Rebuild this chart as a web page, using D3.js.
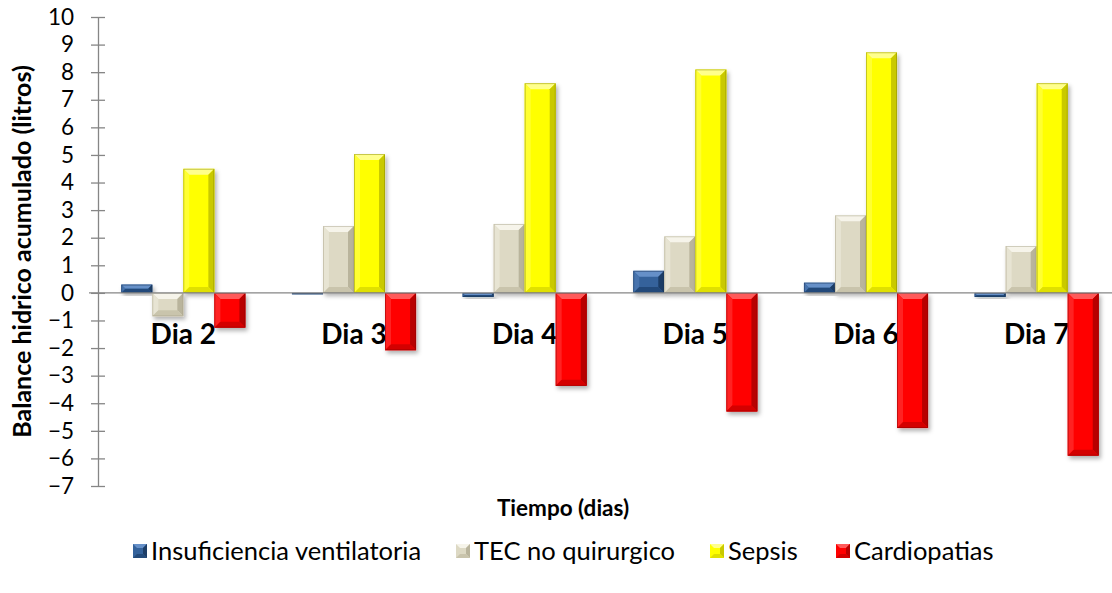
<!DOCTYPE html>
<html>
<head>
<meta charset="utf-8">
<script src="https://cdn.jsdelivr.net/npm/d3@7/dist/d3.min.js"></script>
<style>
  html, body { margin: 0; padding: 0; background: #ffffff; }
  svg { display: block; font-family: Lato, "Open Sans", sans-serif; }
</style>
</head>
<body>
<svg id="chart" width="1112" height="593"></svg>
<script>
// Accumulated fluid balance (litres) per day and diagnosis group
const days = ["Dia 2", "Dia 3", "Dia 4", "Dia 5", "Dia 6", "Dia 7"];
const seriesNames = ["Insuficiencia ventilatoria", "TEC no quirurgico", "Sepsis", "Cardiopatias"];
const insuficiencia = [0.3, -0.05, -0.15, 0.8, 0.37, -0.15];
const tec = [-0.85, 2.42, 2.5, 2.05, 2.81, 1.7];
const sepsis = [4.5, 5.03, 7.6, 8.1, 8.72, 7.6];
const cardiopatias = [-1.26, -2.08, -3.37, -4.3, -4.9, -5.9];
const yTicks = [10, 9, 8, 7, 6, 5, 4, 3, 2, 1, 0, -1, -2, -3, -4, -5, -6, -7];

const seriesValues = [insuficiencia, tec, sepsis, cardiopatias];
const palette = [
  { base: "#34629b", top: "#6690c8", left: "#4673ad", right: "#1d3d66", bottom: "#234a7a", edge: "#1a365c" },
  { base: "#ddd9c4", top: "#f6f4ea", left: "#e7e4d3", right: "#b9b49c", bottom: "#c9c4ac", edge: "#a8a38a" },
  { base: "#ffff00", top: "#ffff8c", left: "#ffff33", right: "#c9c900", bottom: "#e0e000", edge: "#8a8a00" },
  { base: "#ff0000", top: "#ff5a5a", left: "#ff2020", right: "#b80000", bottom: "#d40000", edge: "#8c0000" }
];

const svg = d3.select("#chart");

const x0 = d3.scaleBand().domain(days).range([98, 1122]).paddingInner(0).paddingOuter(0);
const bandW = x0.bandwidth();
const barW = bandW / 5.5;
const x1 = d3.scaleBand().domain(d3.range(4)).range([0.75 * barW, 4.75 * barW]);
const y = d3.scaleLinear().domain([-7, 10]).range([486, 17]);

// drop shadow for the bars
const defs = svg.append("defs");
const f = defs.append("filter").attr("id", "shadow").attr("x", "-30%").attr("y", "-30%").attr("width", "160%").attr("height", "160%");
f.append("feDropShadow").attr("dx", 2).attr("dy", 3).attr("stdDeviation", 2.2)
  .attr("flood-color", "#000").attr("flood-opacity", 0.3);

// y axis with crossing ticks
const yAxis = d3.axisLeft(y).tickValues(yTicks).tickSize(0).tickPadding(24).tickFormat(d3.format("d"));
const gy = svg.append("g").attr("transform", "translate(98,0)").call(yAxis);
gy.select(".domain").attr("stroke", "#868686").attr("stroke-width", 1.3);
gy.selectAll(".tick text").attr("font-size", 22.5).attr("fill", "#000").attr("font-family", "Lato, sans-serif");
gy.selectAll(".tick").append("line").attr("x1", -7).attr("x2", 7).attr("stroke", "#868686").attr("stroke-width", 1.3);

// category labels sit just below the zero line
svg.append("g").selectAll("text").data(days).join("text")
  .attr("x", d => x0(d) + bandW / 2)
  .attr("y", y(0) + 51)
  .attr("text-anchor", "middle")
  .attr("font-size", 28).attr("font-weight", 700).attr("fill", "#000")
  .text(d => d);

// beveled bars
const bars = [];
days.forEach((d, i) => {
  seriesValues.forEach((vals, s) => {
    bars.push({ day: d, s, v: vals[i] });
  });
});

const barG = svg.append("g").selectAll("g").data(bars).join("g")
  .attr("filter", "url(#shadow)");

barG.each(function (d) {
  const g = d3.select(this);
  const c = palette[d.s];
  const xL = x0(d.day) + x1(d.s);
  const xR = xL + x1.bandwidth();
  const yT = Math.min(y(d.v), y(0));
  const yB = Math.max(y(d.v), y(0));
  const w = xR - xL, h = Math.max(yB - yT, 1);
  const b = Math.min(6, w / 2, h / 2);
  g.append("rect").attr("x", xL).attr("y", yT).attr("width", w).attr("height", h).attr("fill", c.base);
  const poly = (pts, fill) => g.append("polygon").attr("points", pts.map(p => p.join(",")).join(" ")).attr("fill", fill);
  poly([[xL, yT], [xR, yT], [xR - b, yT + b], [xL + b, yT + b]], c.top);
  poly([[xL, yT], [xL + b, yT + b], [xL + b, yT + h - b], [xL, yT + h]], c.left);
  poly([[xR, yT], [xR, yT + h], [xR - b, yT + h - b], [xR - b, yT + b]], c.right);
  poly([[xL, yT + h], [xL + b, yT + h - b], [xR - b, yT + h - b], [xR, yT + h]], c.bottom);
  g.append("rect").attr("x", xL + 0.5).attr("y", yT + 0.5).attr("width", w - 1).attr("height", h - 1)
    .attr("fill", "none").attr("stroke", c.edge).attr("stroke-width", 0.8).attr("stroke-opacity", 0.6);
});

// zero line drawn over the bars' bases
svg.append("line").attr("x1", 89).attr("x2", 1122).attr("y1", y(0)).attr("y2", y(0))
  .attr("stroke", "#868686").attr("stroke-width", 1.3);

// axis titles
svg.append("text")
  .attr("transform", `translate(31,${(17 + 486) / 2}) rotate(-90)`)
  .attr("text-anchor", "middle")
  .attr("font-size", 25).attr("font-weight", 700).attr("fill", "#000")
  .text("Balance hidrico acumulado (litros)");

svg.append("text")
  .attr("x", 563).attr("y", 516)
  .attr("text-anchor", "middle")
  .attr("font-size", 22.5).attr("font-weight", 700).attr("fill", "#000")
  .text("Tiempo (dias)");

// legend
const legendX = [133, 456, 710, 836];
const lg = svg.append("g").selectAll("g").data(seriesNames).join("g")
  .attr("transform", (d, i) => `translate(${legendX[i]},544)`);
lg.each(function (d, i) {
  const g = d3.select(this);
  const c = palette[i];
  const s = 14, b = 4;
  g.append("rect").attr("width", s).attr("height", s).attr("fill", c.base);
  g.append("polygon").attr("points", `0,0 ${s},0 ${s - b},${b} ${b},${b}`).attr("fill", c.top);
  g.append("polygon").attr("points", `${s},0 ${s},${s} ${s - b},${s - b} ${s - b},${b}`).attr("fill", c.right);
  g.append("polygon").attr("points", `0,${s} ${b},${s - b} ${s - b},${s - b} ${s},${s}`).attr("fill", c.bottom);
  g.append("text").attr("x", s + 4).attr("y", s + 2)
    .attr("font-size", 25.5).attr("fill", "#000").text(d);
});
</script>
</body>
</html>
